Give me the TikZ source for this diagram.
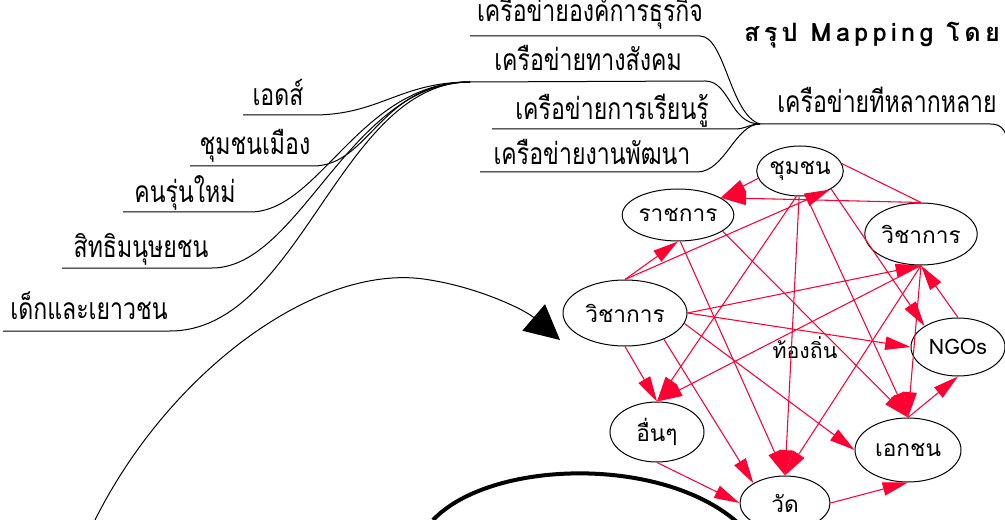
\documentclass[tikz,border=0pt]{standalone}
\usepackage{fontspec}
\newfontfamily\thaifont[Script=Thai]{Loma}
\newfontfamily\thaitall[Script=Thai,FakeStretch=0.77]{Loma}
\newfontfamily\titlefont[Script=Thai,LetterSpace=17]{Loma}
\usetikzlibrary{shapes.geometric,arrows.meta}
\definecolor{edgered}{RGB}{255,0,51}
\begin{document}
\begin{tikzpicture}[x=0.75pt,y=-0.75pt,
  ell/.style={ellipse, draw=black, line width=0.75pt, inner sep=0pt, font=\thaifont\fontsize{17}{20}\selectfont},
  lab/.style={font=\thaitall\fontsize{22.5}{26}\selectfont, inner sep=0pt, anchor=base},
  redarrow/.style={draw=edgered, line width=0.8pt, -{Triangle[length=19pt,width=10pt]}},
  redline/.style={draw=edgered, line width=0.8pt},
  mm/.style={draw=black, line width=0.75pt}]
\useasboundingbox (0,0) rectangle (1005,520);
\clip (0,0) rectangle (1005,520);
% title
\node[anchor=base, inner sep=0pt, font=\titlefont\bfseries\fontsize{19}{22}\selectfont] (title) at (872,42) {สรุป Mapping โดย};
% left mind map labels
\node[lab] (aids) at (278,106) {เอดส์};
\node[lab] (city) at (255,155) {ชุมชนเมือง};
\node[lab] (young) at (185,203) {คนรุ่นใหม่};
\node[lab] (rights) at (141,257) {สิทธิมนุษยชน};
\node[lab] (kids) at (89,319) {เด็กและเยาวชน};
% right mind map labels
\node[lab] (biz) at (590,22) {เครือข่ายองค์การธุรกิจ};
\node[lab] (social) at (588,71) {เครือข่ายทางสังคม};
\node[lab] (learn) at (612,120) {เครือข่ายการเรียนรู้};
\node[lab] (devel) at (592,165) {เครือข่ายงานพัฒนา};
\node[lab] (diverse) at (887,113) {เครือข่ายทีหลากหลาย};
% coordinates
\coordinate (hubL) at (470,82);
\coordinate (hubR) at (760,124);
\coordinate (a1) at (243,115); \coordinate (a2) at (313,115);
\coordinate (b1) at (190,166); \coordinate (b2) at (313,166);
\coordinate (c1) at (123,212); \coordinate (c2) at (250,212);
\coordinate (d1) at (62,268);  \coordinate (d2) at (212,268);
\coordinate (e1) at (3,331);   \coordinate (e2) at (170,331);
\coordinate (f1) at (470,36);  \coordinate (f2) at (700,36);
\coordinate (g2) at (705,81);
\coordinate (h1) at (492,129); \coordinate (h2) at (735,129);
\coordinate (i1) at (480,172); \coordinate (i2) at (697,172);
\coordinate (rEnd) at (1008,142);
% left curves
\draw[mm] (a1) -- (a2) .. controls (380,115) and (400,82) .. (hubL);
\draw[mm] (b1) -- (b2) .. controls (370,166) and (380,82) .. (hubL);
\draw[mm] (c1) -- (c2) .. controls (320,212) and (360,82) .. (hubL);
\draw[mm] (d1) -- (d2) .. controls (300,268) and (350,82) .. (hubL);
\draw[mm] (e1) -- (e2) .. controls (300,331) and (340,82) .. (hubL);
% right curves
\draw[mm] (f1) -- (f2) .. controls (725,36) and (730,115) .. (hubR);
\draw[mm] (hubL) -- (g2) .. controls (730,81) and (730,124) .. (hubR);
\draw[mm] (h1) -- (h2) .. controls (745,129) and (750,124) .. (hubR);
\draw[mm] (i1) -- (i2) .. controls (725,172) and (735,124) .. (hubR);
\draw[mm] (hubR) -- (990,124) .. controls (1000,124) and (1005,128) .. (rEnd);
% big black arrow and arc
\coordinate (bigS) at (95,520);
\coordinate (bigT) at (560,340);
\draw[mm, -{Triangle[length=26pt,width=26pt]}] (bigS) .. controls (170,370) and (320,260) .. (430,280) .. controls (480,288) and (525,310) .. (bigT);
\coordinate (arcS) at (433,520);
\coordinate (arcE) at (737,522);
\draw[line width=3pt] (arcS) .. controls (490,460) and (660,455) .. (arcE);
% graph nodes
\node[ell, minimum width=60pt, minimum height=37.5pt] (c) at (800,171) {ชุมชน};
\node[ell, minimum width=78pt, minimum height=39pt] (r) at (678,215) {ราชการ};
\node[ell, minimum width=81pt, minimum height=46.5pt] (w1) at (921,234) {วิชาการ};
\node[ell, minimum width=93pt, minimum height=49.5pt] (w2) at (625,313) {วิชาการ};
\node[ell, minimum width=70.5pt, minimum height=43.5pt, font=\thaifont\fontsize{16}{19}\selectfont] (n) at (958,347) {NGOs};
\node[ell, minimum width=70.5pt, minimum height=45pt] (u) at (657,432) {อื่นๆ};
\node[ell, minimum width=79.5pt, minimum height=48pt] (e) at (908,450) {เอกชน};
\node[ell, minimum width=67.5pt, minimum height=40.5pt] (wat) at (785,503) {วัด};
\node[inner sep=0pt, font=\thaifont\fontsize{16}{19}\selectfont] (tl) at (805,348) {ท้องถิ่น};
% edges
\draw[redarrow] (c.190) -- (r.22);
\draw[redline] (c.10) -- (w1.90);
\draw[redarrow] (w1.90) -- (r.22);
\draw[redarrow] (w2.90) -- (r.270);
\draw[redarrow] (w2.90) -- (c.328);
\draw[redarrow] (r.275) -- (wat.90);
\draw[redarrow] (r.340) -- (e.90);
\draw[redarrow] (c.262) -- (u.90);
\draw[redarrow] (c.268) -- (wat.90);
\draw[redarrow] (c.284) -- (e.90);
\draw[redarrow] (c.330) -- (n.148);
\draw[redarrow] (w1.270) -- (u.90);
\draw[redarrow] (w1.270) -- (wat.90);
\draw[redarrow] (w1.270) -- (e.90);
\draw[redarrow] (w2.0) -- (w1.270);
\draw[redarrow] (w2.0) -- (n.180);
\draw[redarrow] (w2.350) -- (e.180);
\draw[redarrow] (w2.270) -- (u.90);
\draw[redarrow] (w2.326) -- (wat.148);
\draw[redarrow] (n.90) -- (w1.270);
\draw[redarrow] (e.90) -- (n.270);
\draw[redarrow] (wat.0) -- (e.270);
\draw[redarrow] (u.270) -- (wat.180);
\end{tikzpicture}
\end{document}
